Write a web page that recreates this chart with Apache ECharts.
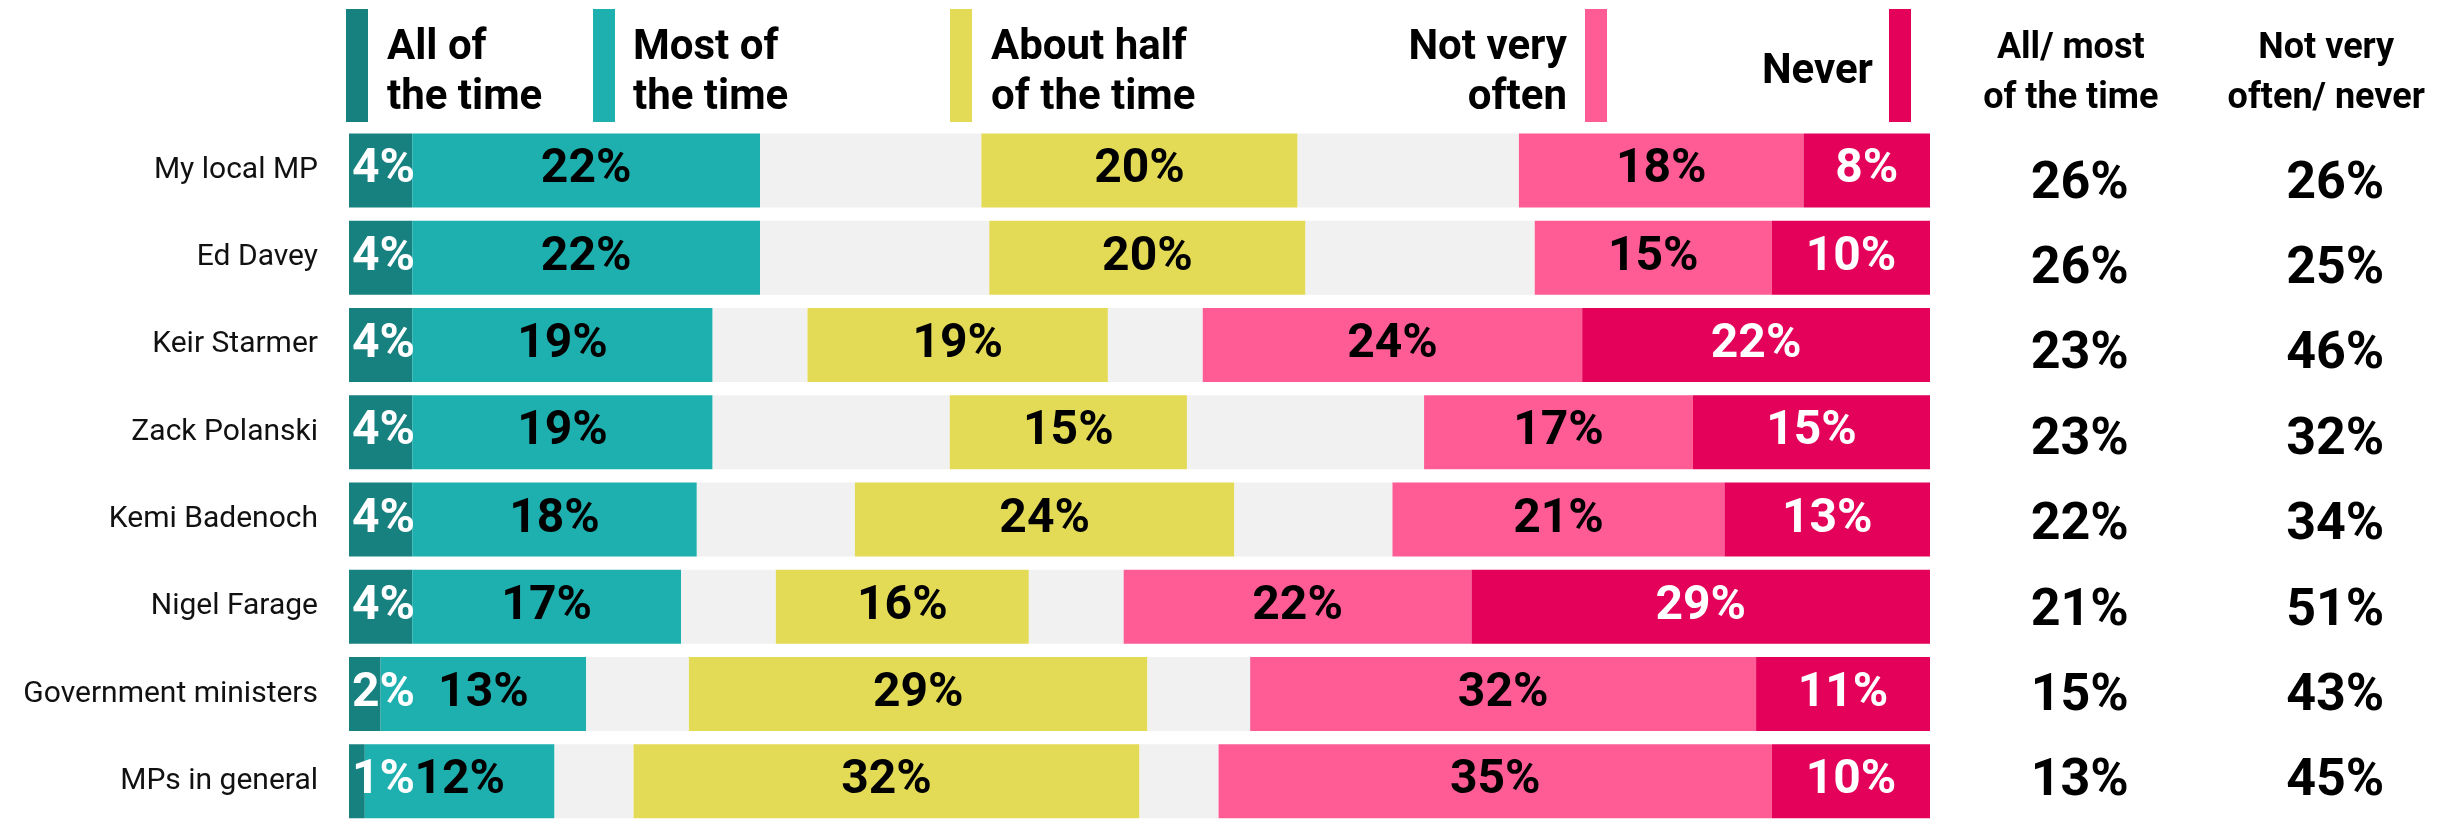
<!DOCTYPE html>
<html>
<head>
<meta charset="utf-8">
<style>
  html, body { margin: 0; padding: 0; background: #ffffff; }
  #chart { width: 2463px; height: 825px; }
</style>
<script src="https://cdn.jsdelivr.net/npm/echarts@6/dist/echarts.min.js"></script>
</head>
<body>
<div id="chart"></div>
<script>
const categories = ['My local MP', 'Ed Davey', 'Keir Starmer', 'Zack Polanski', 'Kemi Badenoch', 'Nigel Farage', 'Government ministers', 'MPs in general'];
const allTime  = [4, 4, 4, 4, 4, 4, 2, 1];
const mostTime = [22, 22, 19, 19, 18, 17, 13, 12];
const halfTime = [20, 20, 19, 15, 24, 16, 29, 32];
const notVery  = [18, 15, 24, 17, 21, 22, 32, 35];
const never    = [8, 10, 22, 15, 13, 29, 11, 10];
const allMost  = [26, 26, 23, 23, 22, 21, 15, 13];
const notNever = [26, 25, 46, 32, 34, 51, 43, 45];
const seriesNames = ['All of\nthe time', 'Most of\nthe time', 'About half\nof the time', 'Not very\noften', 'Never'];
const summaryHeaders = ['All/ most\nof the time', 'Not very\noften/ never'];

const COLORS = {
  all: '#17817f', most: '#1eafaf', half: '#e3da55', gap: '#f1f1f1', notVery: '#ff5b95', never: '#e3015a'
};
const FONT = 'Roboto, "Open Sans", sans-serif';

// grey filler on both sides of the middle segment (equal split of the remainder)
const gap = categories.map((_, i) => (100 - allTime[i] - mostTime[i] - halfTime[i] - notVery[i] - never[i]) / 2);

function segLabel(color, position, distance) {
  return {
    show: true, position: position || 'inside', distance: distance || 0,
    formatter: p => p.value + '%',
    color: color, fontFamily: FONT, fontWeight: 'bold', fontSize: 48
  };
}
function bar(name, data, color, label) {
  return {
    name: name, type: 'bar', stack: 'total', data: data, barWidth: 74,
    xAxisIndex: 0, yAxisIndex: 0,
    itemStyle: { color: color },
    label: label || { show: false },
    emphasis: { disabled: true }, silent: true
  };
}

const chart = echarts.init(document.getElementById('chart'), null, { renderer: 'canvas' });

const legendItems = [
  { x: 346, color: COLORS.all, text: seriesNames[0], tx: 387, align: 'left', ty: 73 },
  { x: 593, color: COLORS.most, text: seriesNames[1], tx: 633, align: 'left', ty: 73 },
  { x: 950, color: COLORS.half, text: seriesNames[2], tx: 991, align: 'left', ty: 73 },
  { x: 1585, color: COLORS.notVery, text: seriesNames[3], tx: 1567, align: 'right', ty: 73 },
  { x: 1889, color: COLORS.never, text: seriesNames[4], tx: 1873, align: 'right', ty: 72 }
];
const graphics = [];
legendItems.forEach(it => {
  graphics.push({ type: 'rect', shape: { x: it.x, y: 9, width: 22, height: 113 }, style: { fill: it.color }, silent: true });
  graphics.push({
    type: 'text', x: it.tx, y: it.ty, silent: true,
    style: { text: it.text, fill: '#000', fontFamily: FONT, fontWeight: 'bold', fontSize: 42, lineHeight: 50, align: it.align, verticalAlign: 'middle' }
  });
});

const option = {
  backgroundColor: '#ffffff',
  animation: false,
  graphic: graphics,
  grid: [
    { left: 349, top: 126.75, width: 1581, height: 708, containLabel: false },
    { left: 1952, top: 142, width: 536, height: 687, containLabel: false }
  ],
  xAxis: [
    { type: 'value', gridIndex: 0, min: 0, max: 100, show: false },
    {
      type: 'category', gridIndex: 1, position: 'top', data: summaryHeaders,
      axisLine: { show: false }, axisTick: { show: false }, splitLine: { show: false },
      axisLabel: { margin: 18, color: '#000', fontFamily: FONT, fontWeight: 'bold', fontSize: 36, lineHeight: 50, padding: [0, 18, 0, 0], interval: 0 }
    }
  ],
  yAxis: [
    {
      type: 'category', gridIndex: 0, data: categories, inverse: true,
      axisLine: { show: false }, axisTick: { show: false }, splitLine: { show: false },
      axisLabel: { margin: 31, color: '#111', fontFamily: FONT, fontSize: 30 }
    },
    { type: 'category', gridIndex: 1, data: categories, inverse: true, show: false }
  ],
  series: [
    bar('All of the time', allTime, COLORS.all, segLabel('#ffffff', 'insideLeft', 3)),
    bar('Most of the time', mostTime, COLORS.most, segLabel('#000000')),
    bar('gap1', gap, COLORS.gap, null),
    bar('About half of the time', halfTime, COLORS.half, segLabel('#000000')),
    bar('gap2', gap, COLORS.gap, null),
    bar('Not very often', notVery, COLORS.notVery, segLabel('#000000')),
    bar('Never', never, COLORS.never, segLabel('#ffffff')),
    {
      name: 'summary', type: 'scatter', xAxisIndex: 1, yAxisIndex: 1,
      symbolSize: 1, itemStyle: { color: '#ffffff', opacity: 1 }, silent: true,
      emphasis: { disabled: true },
      data: categories.flatMap((c, i) => [[0, i, allMost[i]], [1, i, notNever[i]]]),
      label: {
        show: true, position: 'inside', formatter: p => p.value[2] + '%', opacity: 1,
        color: '#000000', textBorderWidth: 0, fontFamily: FONT, fontWeight: 'bold', fontSize: 52
      }
    }
  ]
};
chart.setOption(option);
</script>
</body>
</html>
